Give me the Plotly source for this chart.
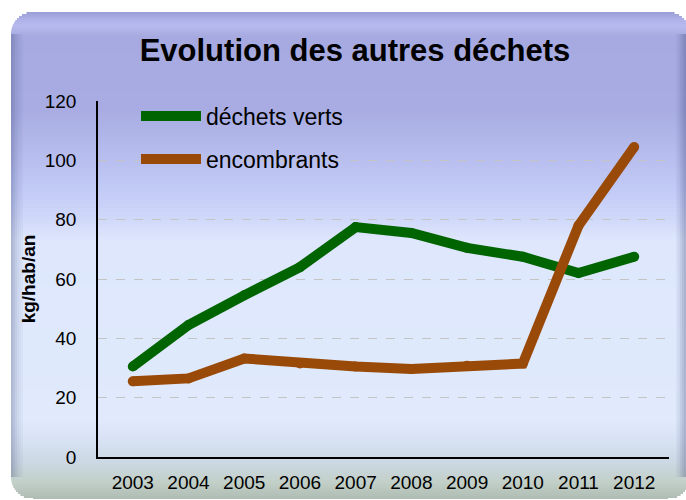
import math
import plotly.graph_objects as go

years = ["2003", "2004", "2005", "2006", "2007", "2008", "2009", "2010", "2011", "2012"]
dechets_verts = [30.5, 44.5, 54.5, 64, 77.5, 75.5, 70.5, 67.5, 62, 67.5]
encombrants = [25.5, 26.5, 33.2, 31.5, 30.5, 29.7, 30.8, 31.5, 78, 104.5]
y_ticks = [0, 20, 40, 60, 80, 100, 120]

W, H = 686, 500
ML, MR, MT, MB = 98, 17, 101, 43
PW, PH = W - ML - MR, H - MT - MB

def px2x(px):
    return (px - ML) / PW

def px2y(py):
    return (H - MB - py) / PH

def hex2rgb(h):
    h = h.lstrip("#")
    return tuple(int(h[i:i + 2], 16) for i in (0, 2, 4))

stops = [
    (12, "#9A9ED6"), (20, "#AEB2E8"), (26, "#B6BAEE"), (36, "#A6AAE0"),
    (110, "#A8ACE2"), (190, "#C2CAF6"), (222, "#D2DAFA"), (240, "#DEE7FC"),
    (420, "#E0EAFC"), (440, "#D8E2F4"), (462, "#CCD8E4"), (482, "#C2D0C8"),
    (499, "#AEBCB4"),
]

def color_at(y):
    for (y0, c0), (y1, c1) in zip(stops, stops[1:]):
        if y0 <= y <= y1:
            t = (y - y0) / (y1 - y0) if y1 > y0 else 0
            a, b = hex2rgb(c0), hex2rgb(c1)
            return "rgb(%d,%d,%d)" % tuple(round(a[i] + (b[i] - a[i]) * t) for i in range(3))
    return stops[-1][1]

CX0, CX1, CY0, CY1, R = 11, 690, 12, 499, 22

def inset(y):
    if y < CY0 + R:
        d = CY0 + R - y
    elif y > CY1 - R:
        d = y - (CY1 - R)
    else:
        return 0
    d = min(d, R)
    return R - math.sqrt(max(R * R - d * d, 0))

shapes = []
step = 2
y = CY0
while y < CY1:
    ym = y + step / 2
    ins = inset(ym)
    shapes.append(dict(
        type="rect", xref="paper", yref="paper", layer="below",
        x0=px2x(CX0 + ins), x1=px2x(CX1 - ins),
        y0=px2y(y), y1=px2y(min(y + step, CY1)),
        fillcolor=color_at(ym), line=dict(width=0),
    ))
    y += step

# side bevels
for i, a in enumerate([0.28, 0.22, 0.16, 0.11, 0.07, 0.04]):
    x = CX0 + i * 2
    shapes.append(dict(type="rect", xref="paper", yref="paper", layer="below",
                       x0=px2x(x), x1=px2x(x + 2), y0=px2y(CY0 + R), y1=px2y(CY1 - R),
                       fillcolor="rgba(50,60,110,%.2f)" % a, line=dict(width=0)))
for i, a in enumerate([0.30, 0.24, 0.17, 0.10, 0.05]):
    x = 686 - (i + 1) * 2
    shapes.append(dict(type="rect", xref="paper", yref="paper", layer="below",
                       x0=px2x(x), x1=px2x(x + 2), y0=px2y(CY0 + R), y1=px2y(CY1 - R),
                       fillcolor="rgba(50,60,110,%.2f)" % a, line=dict(width=0)))

GREEN = "#006400"
ORANGE = "#9A4A08"

fig = go.Figure()
fig.add_trace(go.Scatter(x=years, y=dechets_verts, mode="lines", name="déchets verts",
                         line=dict(color=GREEN, width=10), legend="legend"))
fig.add_trace(go.Scatter(x=years, y=encombrants, mode="lines", name="encombrants",
                         line=dict(color=ORANGE, width=10), legend="legend2"))
fig.add_trace(go.Scatter(x=years, y=dechets_verts, mode="markers", showlegend=False,
                         marker=dict(color=GREEN, size=10), hoverinfo="skip"))
fig.add_trace(go.Scatter(x=years, y=encombrants, mode="markers", showlegend=False,
                         marker=dict(color=ORANGE, size=10), hoverinfo="skip"))

FONT = "Liberation Sans, Arial, sans-serif"
leg_common = dict(bgcolor="rgba(0,0,0,0)", borderwidth=0, xanchor="left", yanchor="middle",
                  font=dict(family=FONT, size=23, color="black"), itemwidth=60)

fig.update_layout(
    width=W, height=H,
    margin=dict(l=ML, r=MR, t=MT, b=MB, pad=0, autoexpand=False),
    paper_bgcolor="white", plot_bgcolor="rgba(0,0,0,0)",
    shapes=shapes,
    title=dict(text="<b>Evolution des autres déchets</b>", x=355 / W, xanchor="center",
               y=1 - 50 / H, yanchor="middle", automargin=False,
               font=dict(family=FONT, size=31, color="black")),
    legend=dict(x=px2x(136), y=px2y(116), **leg_common),
    legend2=dict(x=px2x(136), y=px2y(159), **leg_common),
    xaxis=dict(type="category", showgrid=False, showline=True, linecolor="black", linewidth=1.5,
               ticks="", tickfont=dict(family=FONT, size=19, color="black"),
               ticklabelstandoff=7, zeroline=False, fixedrange=True, automargin=False),
    yaxis=dict(range=[0, 120], tickvals=y_ticks, showgrid=True, gridcolor="#C4C4C4",
               griddash="dash", gridwidth=1, showline=True, linecolor="black", linewidth=1.5,
               ticks="", tickfont=dict(family=FONT, size=19, color="black"),
               ticklabelstandoff=16, zeroline=False, automargin=False,
               title=dict(text="<b>kg/hab/an</b>", font=dict(family=FONT, size=19, color="black"),
                          standoff=4)),
)

fig.write_html("out.html", config={"displayModeBar": False},
               post_script="document.body.style.margin='0';document.body.style.padding='0';")
